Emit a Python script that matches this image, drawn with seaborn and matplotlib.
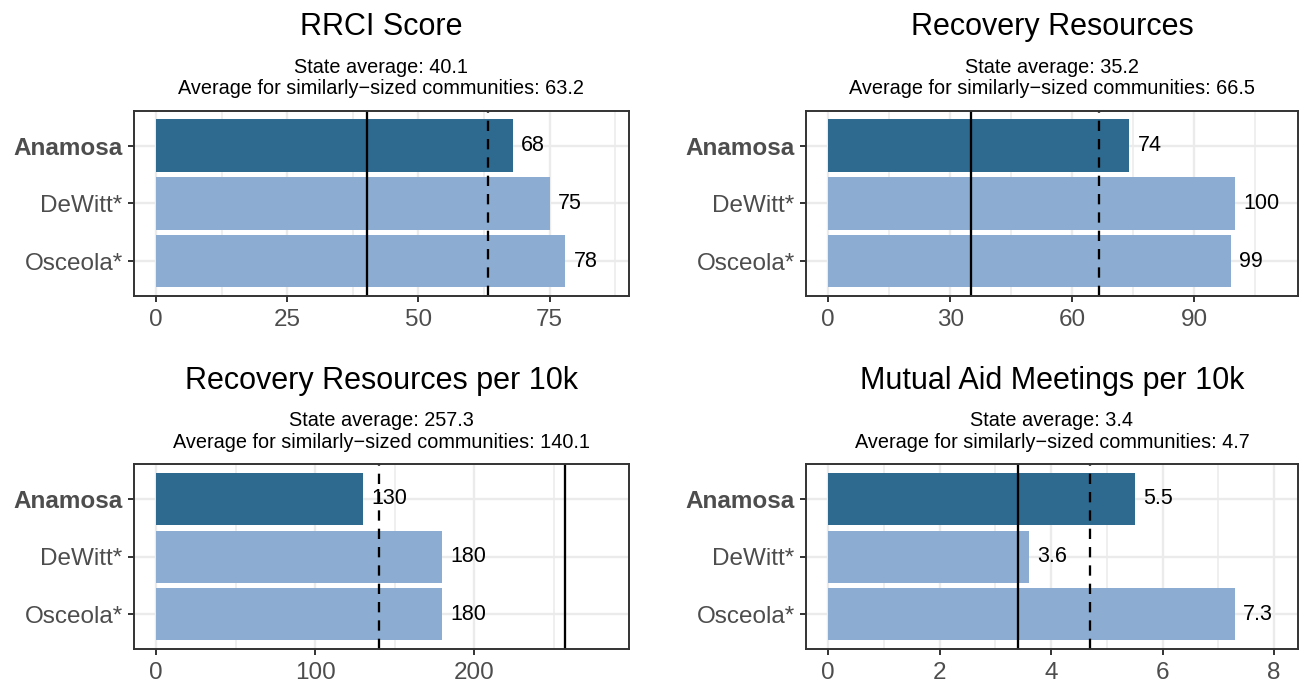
import numpy as np
import pandas as pd
import seaborn as sns
import matplotlib
matplotlib.use("Agg")
import matplotlib.pyplot as plt
from matplotlib.ticker import FixedLocator

# ---------------- data ----------------
towns = ["Anamosa", "DeWitt*", "Osceola*"]
titles = ["RRCI Score", "Recovery Resources",
          "Recovery Resources per 10k", "Mutual Aid Meetings per 10k"]
rrci_score = [68, 75, 78]
recovery_resources = [74, 100, 99]
resources_per_10k = [130, 180, 180]
meetings_per_10k = [5.5, 3.6, 7.3]
state_average = [40.1, 35.2, 257.3, 3.4]
similar_average = [63.2, 66.5, 140.1, 4.7]
value_labels = [["68", "75", "78"], ["74", "100", "99"],
                ["130", "180", "180"], ["5.5", "3.6", "7.3"]]
major_ticks = [[0, 25, 50, 75], [0, 30, 60, 90], [0, 100, 200], [0, 2, 4, 6, 8]]
minor_ticks = [[12.5, 37.5, 62.5, 87.5], [15, 45, 75, 105], [50, 150, 250], [1, 3, 5, 7]]

series = [rrci_score, recovery_resources, resources_per_10k, meetings_per_10k]

# ---------------- style ----------------
sns.set_theme(style="white")
plt.rcParams['font.family'] = ['Liberation Sans', 'DejaVu Sans']

palette = {"Anamosa": "#2E6A8F", "DeWitt*": "#8CADD1", "Osceola*": "#8CADD1"}

W, H = 1299, 684
fig = plt.figure(figsize=(W / 100, H / 100), dpi=100)

positions = [
    (0.103, 0.567, 0.381, 0.271),
    (0.6203, 0.567, 0.379, 0.271),
    (0.103, 0.0512, 0.381, 0.270),
    (0.6203, 0.0512, 0.379, 0.270),
]

PX = 0.72  # points per pixel at dpi 100

for k in range(4):
    ax = fig.add_axes(positions[k])
    vals = series[k]
    df = pd.DataFrame({"town": towns, "value": vals})
    sns.barplot(data=df, y="town", x="value", hue="town", palette=palette,
                width=0.9, orient="h", ax=ax, legend=False, saturation=1,
                errorbar=None, zorder=2, linewidth=0, edgecolor="none")

    xmax = max(max(vals), state_average[k], similar_average[k]) * 1.1
    ax.set_xlim(-0.05 * xmax, 1.05 * xmax)
    ax.set_ylim(2.6, -0.6)

    ax.set_xticks(major_ticks[k])
    ax.set_xticklabels([str(t) for t in major_ticks[k]])
    ax.xaxis.set_minor_locator(FixedLocator(minor_ticks[k]))

    ax.set_axisbelow(True)
    ax.grid(which="major", color="#EBEBEB", lw=1.7)
    ax.grid(which="minor", axis="x", color="#EBEBEB", lw=1.1)

    ax.tick_params(which="minor", length=0)
    ax.tick_params(which="major", length=4.5, width=1.4, color="#333333",
                   labelsize=17.5, labelcolor="#4D4D4D",
                   bottom=True, left=True)
    ax.tick_params(axis="x", which="major", pad=5)
    ax.tick_params(axis="y", which="major", pad=3.5)
    for sp in ax.spines.values():
        sp.set_visible(True)
        sp.set_color("#333333")
        sp.set_linewidth(1.4)
        sp.set_zorder(5)

    ax.set_xlabel("")
    ax.set_ylabel("")
    for lab in ax.get_yticklabels():
        if lab.get_text() == "Anamosa":
            lab.set_fontweight("bold")

    ax.axvline(state_average[k], color="black", lw=1.65, zorder=3)
    ax.axvline(similar_average[k], color="black", lw=1.65,
               ls=(0, (4.5, 3.5)), zorder=3)

    for i, (v, t) in enumerate(zip(vals, value_labels[k])):
        ax.annotate(t, xy=(v, i), xytext=(6, 0), textcoords="offset points",
                    ha="left", va="center", fontsize=15.5, color="black", zorder=4)

    ax.annotate(titles[k], xy=(0.5, 1), xycoords="axes fraction",
                xytext=(0, 75.5 * PX), textcoords="offset points",
                ha="center", va="baseline", fontsize=22, color="black")
    ax.annotate(f"State average: {state_average[k]}", xy=(0.5, 1),
                xycoords="axes fraction", xytext=(0, 38 * PX),
                textcoords="offset points", ha="center", va="baseline",
                fontsize=14.3, color="black")
    ax.annotate(f"Average for similarly\u2212sized communities: {similar_average[k]}",
                xy=(0.5, 1), xycoords="axes fraction", xytext=(0, 16.5 * PX),
                textcoords="offset points", ha="center", va="baseline",
                fontsize=14.3, color="black")

fig.savefig("out.png", dpi=100)
